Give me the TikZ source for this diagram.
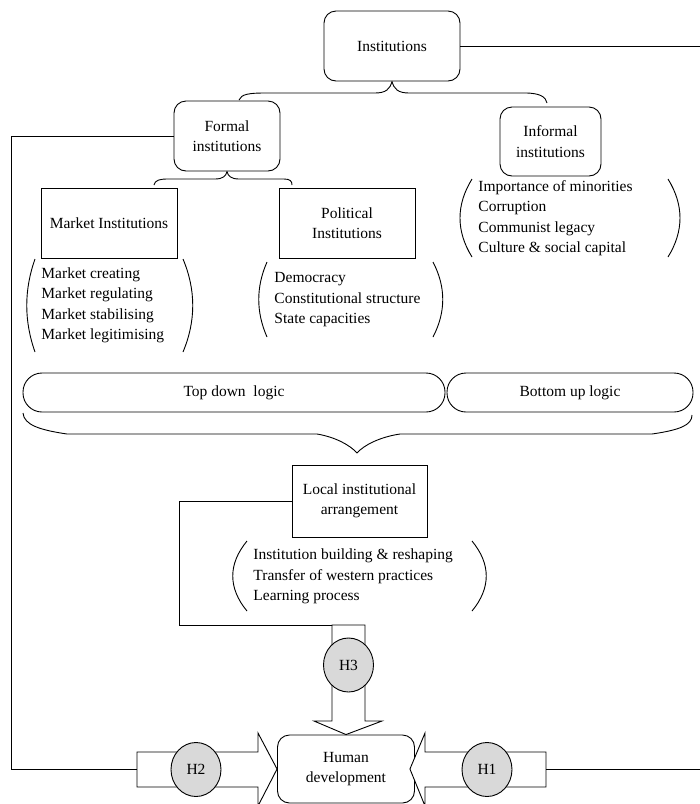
\documentclass[tikz,border=0pt]{standalone}
\usepackage{fontspec}
\setmainfont{Liberation Serif}
\usetikzlibrary{calc,positioning,shapes.geometric}

\begin{document}
\begin{tikzpicture}[x=1pt,y=-1pt,line width=0.9pt,
  every node/.style={font=\fontsize{15.5}{20.5}\selectfont},
  rbox/.style={draw,rounded corners=12pt,align=center,inner sep=0pt},
  sbox/.style={draw,align=center,inner sep=0pt},
  pill/.style={draw,rounded corners=19pt,inner sep=0pt,minimum height=39pt},
  hyp/.style={draw,ellipse,fill=gray!30,minimum width=50pt,minimum height=54pt,inner sep=0pt},
  itemlist/.style={align=left,inner sep=0pt,anchor=west}]
\useasboundingbox (0,0) rectangle (700,804);

\node[rbox,minimum width=136pt,minimum height=70pt] (inst) at (392,46) {Institutions};
\node[rbox,minimum width=106pt,minimum height=70pt] (formal) at (227,136) {Formal\\institutions};
\node[rbox,minimum width=101pt,minimum height=69pt] (informal) at (550.5,141.5) {Informal\\institutions};
\node[sbox,minimum width=136pt,minimum height=70pt] (market) at (109,223) {Market Institutions};
\node[sbox,minimum width=136pt,minimum height=70pt] (political) at (347,223) {Political\\Institutions};
\node[pill,minimum width=422pt] (topdown) at (234,392.5) {Top down~ logic};
\node[pill,minimum width=246pt] (bottomup) at (570,392.5) {Bottom up logic};
\node[sbox,minimum width=135pt,minimum height=72pt] (local) at (359.5,501) {Local institutional\\arrangement};
\node[rbox,minimum width=137pt,minimum height=68pt] (human) at (346,769) {Human\\development};

\node[itemlist] (marketlist) at (41,305.5) {Market creating\\Market regulating\\Market stabilising\\Market legitimising};
\node[itemlist] (politicallist) at (274,300) {Democracy\\Constitutional structure\\State capacities};
\node[itemlist] (informallist) at (478,218) {Importance of minorities\\Corruption\\Communist legacy\\Culture \& social capital};
\node[itemlist] (locallist) at (253,576.5) {Institution building \& reshaping\\Transfer of western practices\\Learning process};

\draw (239,100) .. controls (241,94) and (250,93) .. (265,93) -- (375,93) .. controls (386,93) and (390,89) .. (inst.south);
\draw (inst.south) .. controls (394,89) and (398,93) .. (409,93) -- (525,93) .. controls (540,93) and (546,97) .. (547,103);
\draw (154,185) .. controls (155,180) and (160,179) .. (168,179) -- (215,179) .. controls (223,179) and (226,176) .. (formal.south);
\draw (formal.south) .. controls (228,176) and (231,179) .. (239,179) -- (284,179) .. controls (290,179) and (292,181) .. (292,185);
\draw (23,413) .. controls (24,425) and (40,430) .. (67,434) -- (317,434) .. controls (335,437) and (350,445) .. (357,453);
\draw (357,453) .. controls (364,445) and (380,437) .. (400,434) -- (652,434) .. controls (680,430) and (692,425) .. (692,415);

\draw (35,259) .. controls (24,290) and (24,321) .. (35,352);
\draw (183,259) .. controls (196,290) and (196,321) .. (183,352);
\draw (267,262) .. controls (256,287) and (256,312) .. (267,337);
\draw (433,262) .. controls (446,287) and (446,312) .. (433,337);
\draw (472,179) .. controls (456,205) and (456,231) .. (472,257);
\draw (668,179) .. controls (684,205) and (684,231) .. (668,257);
\draw (247,541) .. controls (228,564) and (228,588) .. (247,611);
\draw (472,541) .. controls (491,564) and (491,588) .. (472,611);

\coordinate (h3tail) at (332,625);
\coordinate (h2tail) at (137,769.5);
\coordinate (h1tail) at (546,769.5);
\coordinate (fbend) at (11,136);
\coordinate (lbend) at (179,501);
\coordinate (instend) at (700,46);
\coordinate (h1end) at (700,769.5);

\draw[fill=white] (h3tail) -- (332,721) -- (314,721) -- (human.north) -- (382,721) -- (365,721) -- (365,625) -- cycle;
\draw[fill=white] (137,752) -- (258,752) -- (258,733) -- (human.west) -- (258,806) -- (258,787) -- (137,787) -- cycle;
\draw[fill=white] (546,752) -- (425,752) -- (425,733) -- ($(human.east)+(-5,0)$) -- (425,806) -- (425,787) -- (546,787) -- cycle;

\node[hyp] (h3) at (348.5,665) {H3};
\node[hyp] (h2) at (196,769.5) {H2};
\node[hyp] (h1) at (487,769.5) {H1};

\draw (inst.east) -- (instend);
\draw (formal.west) -- (fbend) |- (h2tail);
\draw (local.west) -- (lbend) |- (h3tail);
\draw (h1tail) -- (h1end);
\end{tikzpicture}
\end{document}
